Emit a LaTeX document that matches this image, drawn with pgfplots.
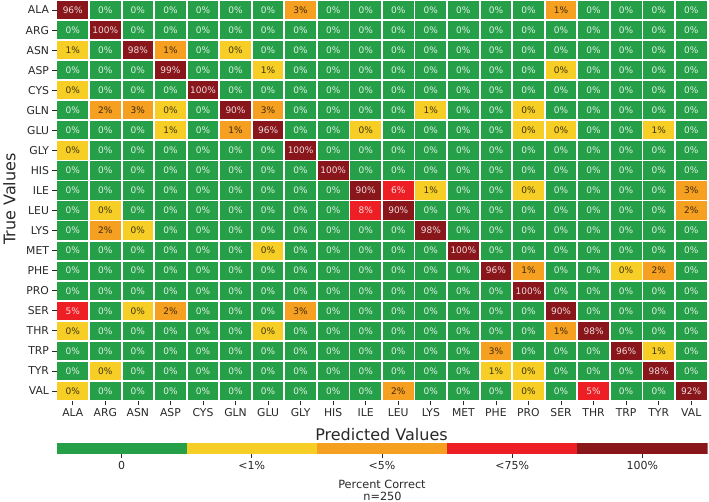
\documentclass[border=0pt]{standalone}
\usepackage{pgfplots}
\pgfplotsset{compat=1.18}
\usepackage{pgfplotstable}
\usepackage{fontspec}
\setmainfont{DejaVu Sans}
\definecolor{cg}{RGB}{38,160,72}
\definecolor{cy}{RGB}{246,206,38}
\definecolor{co}{RGB}{245,160,32}
\definecolor{cr}{RGB}{237,30,36}
\definecolor{cd}{RGB}{137,22,27}
\definecolor{tk}{RGB}{40,40,40}
% c: colour class (0 = 0, 1 = <1%, 2 = <5%, 3 = <75%, 4 = 100%), v: percent shown
\pgfplotstableread[row sep=\\]{
x y c v\\
0 0 4 96\\ 1 0 0 0\\ 2 0 0 0\\ 3 0 0 0\\ 4 0 0 0\\ 5 0 0 0\\ 6 0 0 0\\ 7 0 2 3\\ 8 0 0 0\\ 9 0 0 0\\ 10 0 0 0\\ 11 0 0 0\\ 12 0 0 0\\ 13 0 0 0\\ 14 0 0 0\\ 15 0 2 1\\ 16 0 0 0\\ 17 0 0 0\\ 18 0 0 0\\ 19 0 0 0\\
0 1 0 0\\ 1 1 4 100\\ 2 1 0 0\\ 3 1 0 0\\ 4 1 0 0\\ 5 1 0 0\\ 6 1 0 0\\ 7 1 0 0\\ 8 1 0 0\\ 9 1 0 0\\ 10 1 0 0\\ 11 1 0 0\\ 12 1 0 0\\ 13 1 0 0\\ 14 1 0 0\\ 15 1 0 0\\ 16 1 0 0\\ 17 1 0 0\\ 18 1 0 0\\ 19 1 0 0\\
0 2 1 1\\ 1 2 0 0\\ 2 2 4 98\\ 3 2 2 1\\ 4 2 0 0\\ 5 2 1 0\\ 6 2 0 0\\ 7 2 0 0\\ 8 2 0 0\\ 9 2 0 0\\ 10 2 0 0\\ 11 2 0 0\\ 12 2 0 0\\ 13 2 0 0\\ 14 2 0 0\\ 15 2 0 0\\ 16 2 0 0\\ 17 2 0 0\\ 18 2 0 0\\ 19 2 0 0\\
0 3 0 0\\ 1 3 0 0\\ 2 3 0 0\\ 3 3 4 99\\ 4 3 0 0\\ 5 3 0 0\\ 6 3 1 1\\ 7 3 0 0\\ 8 3 0 0\\ 9 3 0 0\\ 10 3 0 0\\ 11 3 0 0\\ 12 3 0 0\\ 13 3 0 0\\ 14 3 0 0\\ 15 3 1 0\\ 16 3 0 0\\ 17 3 0 0\\ 18 3 0 0\\ 19 3 0 0\\
0 4 1 0\\ 1 4 0 0\\ 2 4 0 0\\ 3 4 0 0\\ 4 4 4 100\\ 5 4 0 0\\ 6 4 0 0\\ 7 4 0 0\\ 8 4 0 0\\ 9 4 0 0\\ 10 4 0 0\\ 11 4 0 0\\ 12 4 0 0\\ 13 4 0 0\\ 14 4 0 0\\ 15 4 0 0\\ 16 4 0 0\\ 17 4 0 0\\ 18 4 0 0\\ 19 4 0 0\\
0 5 0 0\\ 1 5 2 2\\ 2 5 2 3\\ 3 5 1 0\\ 4 5 0 0\\ 5 5 4 90\\ 6 5 2 3\\ 7 5 0 0\\ 8 5 0 0\\ 9 5 0 0\\ 10 5 0 0\\ 11 5 1 1\\ 12 5 0 0\\ 13 5 0 0\\ 14 5 1 0\\ 15 5 0 0\\ 16 5 0 0\\ 17 5 0 0\\ 18 5 0 0\\ 19 5 0 0\\
0 6 0 0\\ 1 6 0 0\\ 2 6 0 0\\ 3 6 1 1\\ 4 6 0 0\\ 5 6 2 1\\ 6 6 4 96\\ 7 6 0 0\\ 8 6 0 0\\ 9 6 1 0\\ 10 6 0 0\\ 11 6 0 0\\ 12 6 0 0\\ 13 6 0 0\\ 14 6 1 0\\ 15 6 1 0\\ 16 6 0 0\\ 17 6 0 0\\ 18 6 1 1\\ 19 6 0 0\\
0 7 1 0\\ 1 7 0 0\\ 2 7 0 0\\ 3 7 0 0\\ 4 7 0 0\\ 5 7 0 0\\ 6 7 0 0\\ 7 7 4 100\\ 8 7 0 0\\ 9 7 0 0\\ 10 7 0 0\\ 11 7 0 0\\ 12 7 0 0\\ 13 7 0 0\\ 14 7 0 0\\ 15 7 0 0\\ 16 7 0 0\\ 17 7 0 0\\ 18 7 0 0\\ 19 7 0 0\\
0 8 0 0\\ 1 8 0 0\\ 2 8 0 0\\ 3 8 0 0\\ 4 8 0 0\\ 5 8 0 0\\ 6 8 0 0\\ 7 8 0 0\\ 8 8 4 100\\ 9 8 0 0\\ 10 8 0 0\\ 11 8 0 0\\ 12 8 0 0\\ 13 8 0 0\\ 14 8 0 0\\ 15 8 0 0\\ 16 8 0 0\\ 17 8 0 0\\ 18 8 0 0\\ 19 8 0 0\\
0 9 0 0\\ 1 9 0 0\\ 2 9 0 0\\ 3 9 0 0\\ 4 9 0 0\\ 5 9 0 0\\ 6 9 0 0\\ 7 9 0 0\\ 8 9 0 0\\ 9 9 4 90\\ 10 9 3 6\\ 11 9 1 1\\ 12 9 0 0\\ 13 9 0 0\\ 14 9 1 0\\ 15 9 0 0\\ 16 9 0 0\\ 17 9 0 0\\ 18 9 0 0\\ 19 9 2 3\\
0 10 0 0\\ 1 10 1 0\\ 2 10 0 0\\ 3 10 0 0\\ 4 10 0 0\\ 5 10 0 0\\ 6 10 0 0\\ 7 10 0 0\\ 8 10 0 0\\ 9 10 3 8\\ 10 10 4 90\\ 11 10 0 0\\ 12 10 0 0\\ 13 10 0 0\\ 14 10 0 0\\ 15 10 0 0\\ 16 10 0 0\\ 17 10 0 0\\ 18 10 0 0\\ 19 10 2 2\\
0 11 0 0\\ 1 11 2 2\\ 2 11 1 0\\ 3 11 0 0\\ 4 11 0 0\\ 5 11 0 0\\ 6 11 0 0\\ 7 11 0 0\\ 8 11 0 0\\ 9 11 0 0\\ 10 11 0 0\\ 11 11 4 98\\ 12 11 0 0\\ 13 11 0 0\\ 14 11 0 0\\ 15 11 0 0\\ 16 11 0 0\\ 17 11 0 0\\ 18 11 0 0\\ 19 11 0 0\\
0 12 0 0\\ 1 12 0 0\\ 2 12 0 0\\ 3 12 0 0\\ 4 12 0 0\\ 5 12 0 0\\ 6 12 1 0\\ 7 12 0 0\\ 8 12 0 0\\ 9 12 0 0\\ 10 12 0 0\\ 11 12 0 0\\ 12 12 4 100\\ 13 12 0 0\\ 14 12 0 0\\ 15 12 0 0\\ 16 12 0 0\\ 17 12 0 0\\ 18 12 0 0\\ 19 12 0 0\\
0 13 0 0\\ 1 13 0 0\\ 2 13 0 0\\ 3 13 0 0\\ 4 13 0 0\\ 5 13 0 0\\ 6 13 0 0\\ 7 13 0 0\\ 8 13 0 0\\ 9 13 0 0\\ 10 13 0 0\\ 11 13 0 0\\ 12 13 0 0\\ 13 13 4 96\\ 14 13 2 1\\ 15 13 0 0\\ 16 13 0 0\\ 17 13 1 0\\ 18 13 2 2\\ 19 13 0 0\\
0 14 0 0\\ 1 14 0 0\\ 2 14 0 0\\ 3 14 0 0\\ 4 14 0 0\\ 5 14 0 0\\ 6 14 0 0\\ 7 14 0 0\\ 8 14 0 0\\ 9 14 0 0\\ 10 14 0 0\\ 11 14 0 0\\ 12 14 0 0\\ 13 14 0 0\\ 14 14 4 100\\ 15 14 0 0\\ 16 14 0 0\\ 17 14 0 0\\ 18 14 0 0\\ 19 14 0 0\\
0 15 3 5\\ 1 15 0 0\\ 2 15 1 0\\ 3 15 2 2\\ 4 15 0 0\\ 5 15 0 0\\ 6 15 0 0\\ 7 15 2 3\\ 8 15 0 0\\ 9 15 0 0\\ 10 15 0 0\\ 11 15 0 0\\ 12 15 0 0\\ 13 15 0 0\\ 14 15 0 0\\ 15 15 4 90\\ 16 15 0 0\\ 17 15 0 0\\ 18 15 0 0\\ 19 15 0 0\\
0 16 1 0\\ 1 16 0 0\\ 2 16 0 0\\ 3 16 0 0\\ 4 16 0 0\\ 5 16 0 0\\ 6 16 1 0\\ 7 16 0 0\\ 8 16 0 0\\ 9 16 0 0\\ 10 16 0 0\\ 11 16 0 0\\ 12 16 0 0\\ 13 16 0 0\\ 14 16 0 0\\ 15 16 2 1\\ 16 16 4 98\\ 17 16 0 0\\ 18 16 0 0\\ 19 16 0 0\\
0 17 0 0\\ 1 17 0 0\\ 2 17 0 0\\ 3 17 0 0\\ 4 17 0 0\\ 5 17 0 0\\ 6 17 0 0\\ 7 17 0 0\\ 8 17 0 0\\ 9 17 0 0\\ 10 17 0 0\\ 11 17 0 0\\ 12 17 0 0\\ 13 17 2 3\\ 14 17 0 0\\ 15 17 0 0\\ 16 17 0 0\\ 17 17 4 96\\ 18 17 1 1\\ 19 17 0 0\\
0 18 0 0\\ 1 18 1 0\\ 2 18 0 0\\ 3 18 0 0\\ 4 18 0 0\\ 5 18 0 0\\ 6 18 0 0\\ 7 18 0 0\\ 8 18 0 0\\ 9 18 0 0\\ 10 18 0 0\\ 11 18 0 0\\ 12 18 0 0\\ 13 18 1 1\\ 14 18 1 0\\ 15 18 0 0\\ 16 18 0 0\\ 17 18 0 0\\ 18 18 4 98\\ 19 18 0 0\\
0 19 1 0\\ 1 19 0 0\\ 2 19 0 0\\ 3 19 0 0\\ 4 19 0 0\\ 5 19 0 0\\ 6 19 0 0\\ 7 19 0 0\\ 8 19 0 0\\ 9 19 0 0\\ 10 19 2 2\\ 11 19 0 0\\ 12 19 0 0\\ 13 19 0 0\\ 14 19 1 0\\ 15 19 0 0\\ 16 19 3 5\\ 17 19 0 0\\ 18 19 0 0\\ 19 19 4 92\\
}\cm
\begin{document}
\begin{tikzpicture}
\useasboundingbox (0,0) rectangle (709pt,-502pt);
\begin{axis}[
  anchor=north west, at={(56.5pt,0pt)},
  width=651pt, height=401pt, scale only axis,
  xmin=-0.5, xmax=19.5, ymin=-0.5, ymax=19.5, y dir=reverse,
  xtick={0,...,19}, ytick={0,...,19},
  xticklabels={ALA,ARG,ASN,ASP,CYS,GLN,GLU,GLY,HIS,ILE,LEU,LYS,MET,PHE,PRO,SER,THR,TRP,TYR,VAL},
  yticklabels={ALA,ARG,ASN,ASP,CYS,GLN,GLU,GLY,HIS,ILE,LEU,LYS,MET,PHE,PRO,SER,THR,TRP,TYR,VAL},
  minor xtick={-0.5,0.5,...,19.5}, minor ytick={-0.5,0.5,...,19.5},
  xminorgrids, yminorgrids,
  minor grid style={white, line width=1.8pt},
  minor tick length=0pt,
  major tick length=4pt,
  tick align=outside,
  xtick pos=bottom, ytick pos=left,
  tick style={tk, line width=0.7pt},
  axis line style={draw=none},
  axis on top,
  tick label style={font=\fontsize{10.8}{13}\selectfont, text=tk},
  colormap={cat}{color(0cm)=(cg) color(1cm)=(cy) color(2cm)=(co) color(3cm)=(cr) color(4cm)=(cd)},
  point meta min=0, point meta max=4,
]
\addplot[matrix plot*, mesh/cols=20, point meta=explicit] table[x=x, y=y, meta=c]{\cm};
\addplot[draw=none, mark=none,
  point meta=explicit symbolic,
  nodes near coords={\pgfplotspointmeta\%},
  every node near coord/.append style={anchor=center, font=\fontsize{9}{9}\selectfont, text=white, text opacity=0.85},
  restrict expr to domain={(\thisrow{c}-1)*(\thisrow{c}-2)}{1:100}]
  table[x=x, y=y, meta=v]{\cm};
\addplot[draw=none, mark=none,
  point meta=explicit symbolic,
  nodes near coords={\pgfplotspointmeta\%},
  every node near coord/.append style={anchor=center, font=\fontsize{9}{9}\selectfont, text=black, text opacity=0.75},
  restrict expr to domain={(\thisrow{c}-1)*(\thisrow{c}-2)}{-0.5:0.5}]
  table[x=x, y=y, meta=v]{\cm};
\end{axis}
\begin{axis}[
  anchor=north west, at={(56.5pt,-443pt)},
  width=651pt, height=11pt, scale only axis,
  xmin=0, xmax=5, ymin=0, ymax=1,
  xtick={0.5,1.5,2.5,3.5,4.5},
  xticklabels={0,{<1\%},{<5\%},{<75\%},{100\%}},
  ytick=\empty,
  axis line style={draw=none},
  tick align=outside, xtick pos=bottom,
  major tick length=4pt,
  tick style={tk, line width=0.7pt},
  tick label style={font=\fontsize{11}{13}\selectfont, text=tk},
]
\addplot[fill=cg, draw=none] coordinates {(0,1) (1,1)} \closedcycle;
\addplot[fill=cy, draw=none] coordinates {(1,1) (2,1)} \closedcycle;
\addplot[fill=co, draw=none] coordinates {(2,1) (3,1)} \closedcycle;
\addplot[fill=cr, draw=none] coordinates {(3,1) (4,1)} \closedcycle;
\addplot[fill=cd, draw=none] coordinates {(4,1) (5,1)} \closedcycle;
\end{axis}
\node[font=\fontsize{16}{18}\selectfont, text=tk, anchor=base] at (381.5pt,-440pt) {Predicted Values};
\node[font=\fontsize{16}{18}\selectfont, text=tk, anchor=base, rotate=90] at (15.5pt,-199pt) {True Values};
\node[font=\fontsize{11.3}{12}\selectfont, text=tk, anchor=base] at (382pt,-488pt) {Percent Correct};
\node[font=\fontsize{11.3}{12}\selectfont, text=tk, anchor=base] at (382.5pt,-500pt) {n=250};
\end{tikzpicture}
\end{document}
